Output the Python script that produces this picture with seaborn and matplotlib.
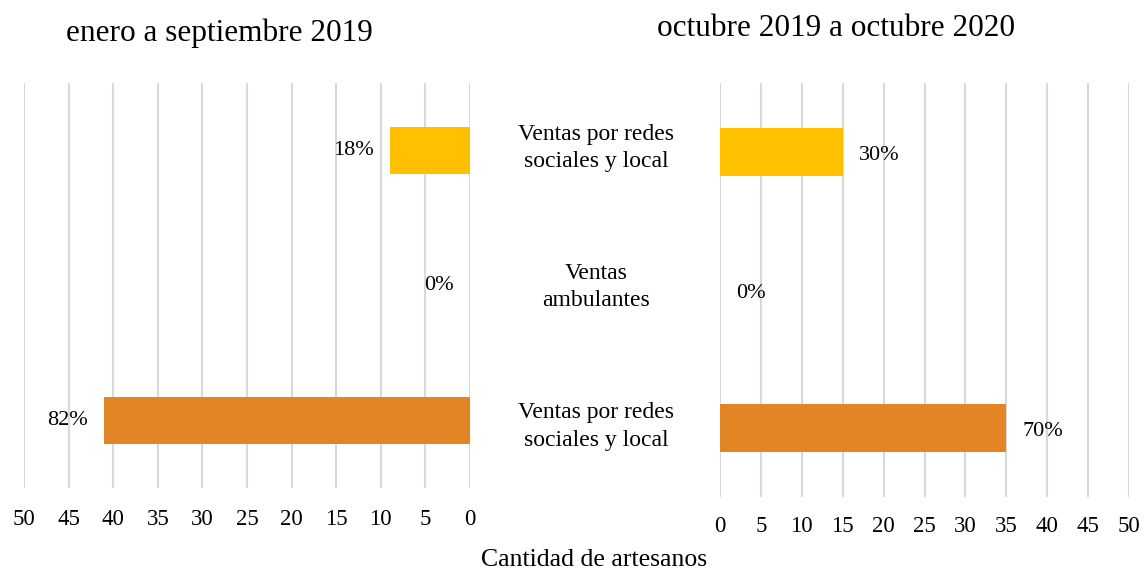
import matplotlib
matplotlib.use("Agg")
import matplotlib.pyplot as plt
import matplotlib.transforms as mtransforms
import seaborn as sns
import pandas as pd

# ---- data ----
cat_ids = ["c1", "c2", "c3"]
cat_labels = ["Ventas por redes\nsociales y local", "Ventas\nambulantes", "Ventas por redes\nsociales y local"]
left_values = [9, 0, 41]
right_values = [15, 0, 35]
left_pct = ["18%", "0%", "82%"]
right_pct = ["30%", "0%", "70%"]
left_title = "enero a septiembre 2019"
right_title = "octubre 2019 a octubre 2020"
x_label = "Cantidad de artesanos"
x_ticks = [0, 5, 10, 15, 20, 25, 30, 35, 40, 45, 50]
palette = {"c1": "#FFC000", "c2": "#A5A5A5", "c3": "#E38425"}

sns.set_theme(style="white")
plt.rcParams["font.family"] = ["Liberation Serif", "DejaVu Serif"]

W, H = 1143, 571
fig = plt.figure(figsize=(W / 100, H / 100), dpi=100)
axL = fig.add_axes([24 / W, 1 - 488 / H, (470 - 24) / W, (488 - 83) / H])
axR = fig.add_axes([720 / W, 1 - 497 / H, (1129 - 720) / W, (497 - 83) / H])

dfL = pd.DataFrame({"cat": cat_ids, "val": left_values})
dfR = pd.DataFrame({"cat": cat_ids, "val": right_values})

for ax, df in ((axL, dfL), (axR, dfR)):
    sns.barplot(data=df, y="cat", x="val", hue="cat", order=cat_ids,
                palette=palette, orient="h", width=0.355, legend=False,
                saturation=1, linewidth=0, ax=ax)
    ax.set_xticks(x_ticks)
    ax.set_yticks([])
    ax.set_xlabel("")
    ax.set_ylabel("")
    ax.grid(axis="x", color="#D9D9D9", linewidth=1.5)
    ax.grid(axis="y", visible=False)
    ax.set_axisbelow(True)
    for s in ax.spines.values():
        s.set_visible(False)
    ax.tick_params(axis="x", length=0, labelsize=16.5, colors="#000000")

axL.set_xlim(50, 0)
axR.set_xlim(0, 50)
axL.tick_params(axis="x", pad=15)
axR.tick_params(axis="x", pad=14)

# value labels
for i, (v, t) in enumerate(zip(left_values, left_pct)):
    axL.annotate(t, xy=(v, i), xytext=(-16, 0), textcoords="offset pixels",
                 ha="right", va="center", fontsize=16, color="#000000")
for i, (v, t) in enumerate(zip(right_values, right_pct)):
    axR.annotate(t, xy=(v, i), xytext=(16, -3), textcoords="offset pixels",
                 ha="left", va="center", fontsize=16, color="#000000")

# category labels in the middle
trans = mtransforms.blended_transform_factory(fig.transFigure, axR.transData)
for i, lab in enumerate(cat_labels):
    fig.text(596 / W, i * 1.01 - 0.03, lab, transform=trans, ha="center", va="center",
             fontsize=17, linespacing=1.4, color="#000000")

fig.text(219 / W, 1 - 33 / H, left_title, ha="center", va="center", fontsize=22.5, color="#000000")
fig.text(836 / W, 1 - 29 / H, right_title, ha="center", va="center", fontsize=22.5, color="#000000")
fig.text(594 / W, 1 - 560 / H, x_label, ha="center", va="center", fontsize=18.5, color="#000000")

fig.savefig("out.png", dpi=100, facecolor="white")
